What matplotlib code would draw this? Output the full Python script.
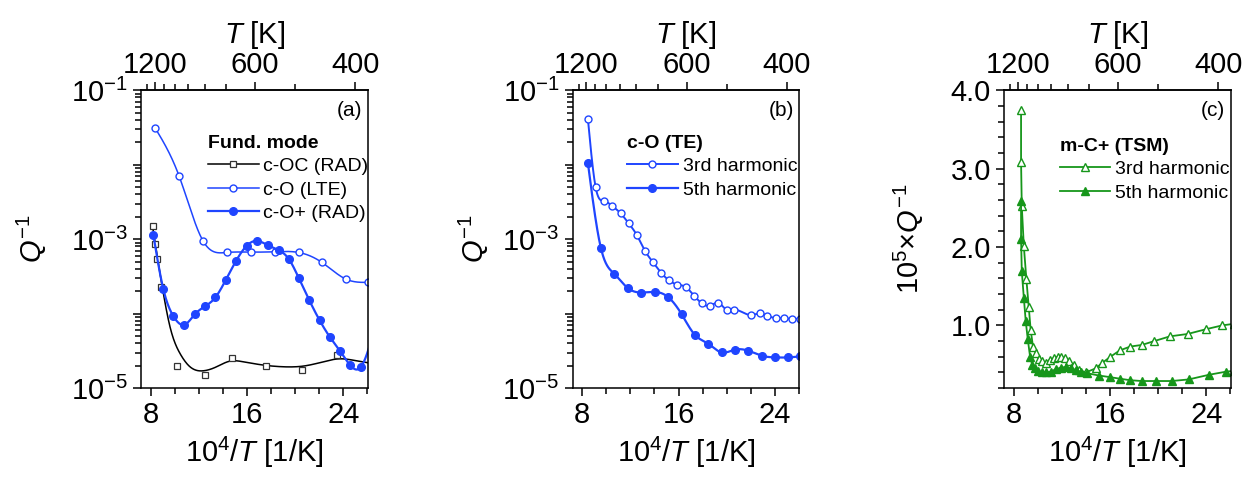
import numpy as np
import matplotlib
matplotlib.use('Agg')
import matplotlib.pyplot as plt
from matplotlib.ticker import MultipleLocator

plt.rcParams['font.family'] = ['Liberation Sans', 'DejaVu Sans']
plt.rcParams['mathtext.fontset'] = 'custom'
plt.rcParams['mathtext.rm'] = 'Liberation Sans'
plt.rcParams['mathtext.it'] = 'Liberation Sans:italic'
plt.rcParams['mathtext.bf'] = 'Liberation Sans:bold'

BLUE = '#1f45ff'
GREEN = '#16961a'

# ---------------- (a) fundamental mode ----------------
a_coc_x = [8.17, 8.38, 8.55, 8.88, 10.21, 12.53, 14.78, 17.58, 20.54, 23.45]
a_coc_q = [1.5e-3, 8.6e-4, 5.4e-4, 2.3e-4, 2.0e-5, 1.5e-5, 2.55e-5, 2.0e-5, 1.76e-5, 2.75e-5]
# smooth fit drawn through the c-OC data
a_coc_fit_x = [8.17, 9.05, 9.60, 10.43, 11.26, 12.37, 13.47, 14.59, 15.69, 17.35,
               19.01, 20.67, 22.34, 23.72, 25.11, 26.05]
a_coc_fit_logq = [-2.85, -3.729, -4.177, -4.535, -4.714, -4.768, -4.714, -4.638, -4.647, -4.691,
                  -4.714, -4.705, -4.647, -4.607, -4.634, -4.66]

a_lte_x = [8.36, 10.35, 12.34, 14.31, 16.31, 18.30, 20.29, 22.23, 24.22, 26.07]
a_lte_logq = [-1.506, -2.150, -3.023, -3.179, -3.174, -3.17, -3.179, -3.313, -3.537, -3.581]

a_rad_x = [8.22, 9.05, 9.88, 10.79, 11.68, 12.54, 13.37, 14.23, 15.08, 15.97, 16.80,
           17.72, 18.63, 19.46, 20.32, 21.17, 22.04, 22.89, 23.75, 24.58, 25.44, 26.6]
a_rad_logq = [-2.946, -3.675, -4.034, -4.150, -4.007, -3.899, -3.783, -3.550, -3.295, -3.090, -3.023,
              -3.081, -3.148, -3.264, -3.528, -3.819, -4.091, -4.315, -4.507, -4.695, -4.722, -4.20]

# ---------------- (b) c-O (TE) harmonics ----------------
b_h3_x = [8.47, 9.10, 9.80, 10.49, 11.18, 11.85, 12.54, 13.20, 13.87, 14.53, 15.19, 15.89, 16.58,
          17.27, 17.93, 18.63, 19.30, 19.99, 20.65, 22.04, 22.73, 23.39, 24.08, 24.74, 25.41, 26.07]
b_h3_logq = [-1.393, -2.296, -2.488, -2.555, -2.653, -2.787, -2.948, -3.154, -3.310, -3.449, -3.551,
             -3.610, -3.641, -3.757, -3.860, -3.895, -3.855, -3.949, -3.949, -4.020, -3.998, -4.029,
             -4.060, -4.060, -4.074, -4.066]
b_h5_x = [8.47, 9.55, 10.66, 11.79, 12.90, 14.01, 15.11, 16.25, 17.35, 18.47, 19.57, 20.68,
          21.81, 22.92, 24.03, 25.13, 26.07]
b_h5_logq = [-1.983, -3.122, -3.466, -3.658, -3.717, -3.708, -3.775, -4.007, -4.284, -4.405, -4.521,
             -4.485, -4.499, -4.566, -4.588, -4.588, -4.575]

# ---------------- (c) m-C+ (TSM) harmonics ----------------
c_h3_x = [8.60, 8.60, 8.66, 8.83, 9.04, 9.24, 9.40, 9.59, 9.81, 10.06, 10.36, 10.69, 10.97, 11.30,
          11.63, 11.90, 12.23, 12.62, 13.00, 13.45, 13.97, 14.79, 15.34, 16.03, 16.80, 17.68, 18.64,
          19.68, 20.98, 22.44, 23.95, 25.33, 26.3]
c_h3_q = [3.75, 3.08, 2.52, 2.01, 1.59, 1.23, 0.94, 0.73, 0.65, 0.57, 0.54, 0.52, 0.56, 0.58,
          0.60, 0.60, 0.58, 0.54, 0.49, 0.43, 0.40, 0.45, 0.52, 0.60, 0.68, 0.73, 0.75,
          0.80, 0.86, 0.89, 0.95, 1.00, 1.02]
c_h5_x = [8.60, 8.60, 8.66, 8.83, 8.99, 9.16, 9.35, 9.54, 9.76, 10.04, 10.36, 10.69, 11.07, 11.48,
          11.90, 12.31, 12.73, 13.14, 13.55, 14.10, 15.07, 15.98, 16.80, 17.68, 18.64, 19.82, 21.11,
          22.52, 24.23, 25.66, 26.3]
c_h5_q = [2.58, 2.10, 1.69, 1.35, 1.05, 0.82, 0.60, 0.49, 0.45, 0.42, 0.40, 0.40, 0.41, 0.44,
          0.46, 0.47, 0.45, 0.43, 0.41, 0.39, 0.36, 0.34, 0.32, 0.30, 0.29, 0.29, 0.29,
          0.31, 0.37, 0.41, 0.42]

T_major = [1200, 600, 400]
T_minor = [1300, 1100, 1000, 900, 800, 700, 500]
X_LIM = (7.2, 26.05)


def spline(x, y, n=500):
    """natural cubic spline through the points (x must increase)"""
    x = np.asarray(x, float)
    y = np.asarray(y, float)
    m = len(x)
    h = np.diff(x)
    A = np.zeros((m, m))
    b = np.zeros(m)
    A[0, 0] = A[-1, -1] = 1.0
    for i in range(1, m - 1):
        A[i, i - 1] = h[i - 1]
        A[i, i] = 2 * (h[i - 1] + h[i])
        A[i, i + 1] = h[i]
        b[i] = 6 * ((y[i + 1] - y[i]) / h[i] - (y[i] - y[i - 1]) / h[i - 1])
    M = np.linalg.solve(A, b)
    xs = np.linspace(x[0], x[-1], n)
    k = np.clip(np.searchsorted(x, xs) - 1, 0, m - 2)
    hh = x[k + 1] - x[k]
    t0 = x[k + 1] - xs
    t1 = xs - x[k]
    ys = (M[k] * t0**3 + M[k + 1] * t1**3) / (6 * hh) \
        + (y[k] / hh - M[k] * hh / 6) * t0 + (y[k + 1] / hh - M[k + 1] * hh / 6) * t1
    return xs, ys


def smooth_series(ax, x, logq, color, marker, mfc, ms, lw, label):
    xs, ys = spline(x, logq)
    ax.plot(xs, 10**ys, color=color, lw=lw)
    ax.plot(x, 10**np.asarray(logq), ls='none', marker=marker, ms=ms,
            mfc=mfc, mec=color, mew=1.0)
    # proxy for the legend: line + marker
    ax.plot([], [], color=color, lw=lw, marker=marker, ms=ms, mfc=mfc, mec=color,
            mew=1.0, label=label)


def style_axes(ax, letter):
    ax.set_xlim(*X_LIM)
    ax.xaxis.set_major_locator(MultipleLocator(8))
    ax.xaxis.set_minor_locator(MultipleLocator(2))
    ax.tick_params(which='both', direction='out', top=False, right=False,
                   labelsize=21, width=1.1)
    ax.tick_params(which='major', length=6)
    ax.tick_params(which='minor', length=4)
    for s in ax.spines.values():
        s.set_linewidth(1.1)
    ax.set_xlabel('10$^4$/$T$ [1/K]', fontsize=21, labelpad=4)

    top = ax.secondary_xaxis('top', functions=(lambda v: 1e4 / v, lambda v: 1e4 / v))
    top.set_xticks(T_major)
    top.set_xticks(T_minor, minor=True)
    top.set_xticklabels([str(t) for t in T_major])
    top.tick_params(which='both', direction='out', labelsize=21, width=1.1, pad=2)
    top.tick_params(which='major', length=6)
    top.tick_params(which='minor', length=4)
    top.spines['top'].set_linewidth(1.1)
    top.set_xlabel('$T$ [K]', fontsize=21, labelpad=6)

    ax.text(0.975, 0.965, letter, transform=ax.transAxes, ha='right', va='top', fontsize=15)


def log_y(ax, pad):
    ax.set_yscale('log')
    ax.set_ylim(1e-5, 1e-1)
    ax.set_yticks([1e-5, 1e-4, 1e-3, 1e-2, 1e-1])
    ax.set_yticklabels(['10$^{-5}$', '', '10$^{-3}$', '', '10$^{-1}$'])
    ax.set_ylabel('$Q^{-1}$', fontsize=21, labelpad=pad)


def legend(ax, title, x0, y0):
    leg = ax.legend(loc='upper left', bbox_to_anchor=(x0, y0), frameon=False, fontsize=14,
                    title=title, title_fontsize=14, alignment='left', handlelength=2.6,
                    handletextpad=0.25, labelspacing=0.3, borderaxespad=0, borderpad=0)
    leg.get_title().set_fontweight('bold')


def main():
    fig = plt.figure(figsize=(12.6, 4.9), dpi=100)
    ax_a = fig.add_axes([0.112, 0.208, 0.180, 0.608])
    ax_b = fig.add_axes([0.4545, 0.208, 0.180, 0.608])
    ax_c = fig.add_axes([0.797, 0.208, 0.180, 0.608])

    # (a)
    xs, ys = spline(a_coc_fit_x, a_coc_fit_logq)
    ax_a.plot(xs, 10**ys, color='black', lw=1.1)
    ax_a.plot(a_coc_x, a_coc_q, ls='none', marker='s', ms=4.5, mfc='white', mec='#333333', mew=0.9)
    ax_a.plot([], [], color='black', lw=1.1, marker='s', ms=4.5, mfc='white', mec='#333333',
              mew=0.9, label='c-OC (RAD)')
    smooth_series(ax_a, a_lte_x, a_lte_logq, BLUE, 'o', 'white', 5, 1.1, 'c-O (LTE)')
    smooth_series(ax_a, a_rad_x, a_rad_logq, BLUE, 'o', BLUE, 5.5, 1.6, 'c-O+ (RAD)')
    log_y(ax_a, 16)
    style_axes(ax_a, '(a)')
    legend(ax_a, 'Fund. mode', 0.295, 0.85)

    # (b)
    smooth_series(ax_b, b_h3_x, b_h3_logq, BLUE, 'o', 'white', 5, 1.4, '3rd harmonic')
    smooth_series(ax_b, b_h5_x, b_h5_logq, BLUE, 'o', BLUE, 5.5, 1.6, '5th harmonic')
    log_y(ax_b, 8)
    style_axes(ax_b, '(b)')
    legend(ax_b, 'c-O (TE)', 0.24, 0.85)

    # (c)
    ax_c.plot(c_h3_x, c_h3_q, color=GREEN, lw=1.3, marker='^', ms=6, mfc='white', mec=GREEN,
              mew=1.0, label='3rd harmonic')
    ax_c.plot(c_h5_x, c_h5_q, color=GREEN, lw=1.3, marker='^', ms=6, mfc=GREEN, mec=GREEN,
              mew=1.0, label='5th harmonic')
    ax_c.set_ylim(0.2, 4.0)
    ax_c.yaxis.set_major_locator(MultipleLocator(1.0))
    ax_c.yaxis.set_minor_locator(MultipleLocator(0.2))
    ax_c.yaxis.set_major_formatter(matplotlib.ticker.FormatStrFormatter('%.1f'))
    ax_c.set_ylabel('10$^5$×$Q^{-1}$', fontsize=21, labelpad=18)
    style_axes(ax_c, '(c)')
    legend(ax_c, 'm-C+ (TSM)', 0.245, 0.84)

    plt.savefig('out.png', dpi=100, facecolor='white')
    plt.close()


if __name__ == '__main__':
    main()
